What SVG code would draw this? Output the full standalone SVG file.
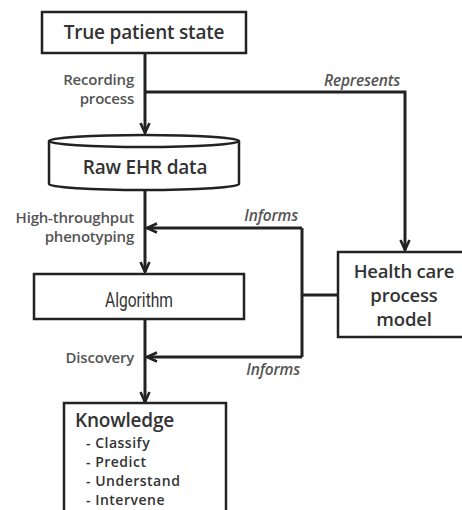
<svg xmlns="http://www.w3.org/2000/svg" width="462" height="510" viewBox="0 0 462 510">
  <style>
    .box { fill: #fff; stroke: #222; stroke-width: 2.5; }
    .wire { fill: none; stroke: #222; stroke-width: 3; }
    .title { font-family: "Open Sans", "Liberation Sans", sans-serif; font-weight: 600; fill: #333; }
    .item { font-family: "Open Sans", "Liberation Sans", sans-serif; font-weight: 600; fill: #333; font-size: 14px; letter-spacing: 0.5px; }
    .lbl { font-family: "Open Sans", "Liberation Sans", sans-serif; font-weight: 600; font-size: 15px; fill: #555; letter-spacing: -0.2px; }
    .ital { font-family: "Open Sans", "Liberation Sans", sans-serif; font-style: italic; font-weight: 600; font-size: 15.5px; fill: #555; letter-spacing: -0.2px; }
  </style>
  <defs>
    <marker id="arrow" viewBox="0 0 12 12" refX="11" refY="6" markerWidth="12" markerHeight="12" markerUnits="userSpaceOnUse" orient="auto">
      <path d="M1,1.5 L11,6 L1,10.5" fill="none" stroke="#222" stroke-width="2.6"/>
    </marker>
  </defs>
  <rect width="462" height="510" fill="#fff"/>

  <!-- connectors -->
  <g id="connectors">
    <line class="wire" x1="145" y1="53" x2="145" y2="133" marker-end="url(#arrow)"/>
    <polyline class="wire" points="145,92 405,92 405,250" marker-end="url(#arrow)"/>
    <line class="wire" x1="145" y1="190" x2="145" y2="272" marker-end="url(#arrow)"/>
    <line class="wire" x1="145" y1="319" x2="145" y2="402" marker-end="url(#arrow)"/>
    <polyline class="wire" points="338,295 302,295"/>
    <polyline class="wire" points="302,228 302,357"/>
    <line class="wire" x1="302" y1="228" x2="147" y2="228" marker-end="url(#arrow)"/>
    <line class="wire" x1="302" y1="357" x2="147" y2="357" marker-end="url(#arrow)"/>
    <text class="lbl" x="134" y="85" text-anchor="end">Recording</text>
    <text class="lbl" x="134" y="104" text-anchor="end">process</text>
    <text class="ital" x="400" y="86" text-anchor="end">Represents</text>
    <text class="lbl" x="134" y="223" text-anchor="end">High-throughput</text>
    <text class="lbl" x="134" y="242" text-anchor="end">phenotyping</text>
    <text class="ital" x="298" y="221" text-anchor="end">Informs</text>
    <text class="lbl" x="134" y="363" text-anchor="end">Discovery</text>
    <text class="ital" x="300" y="375" text-anchor="end">Informs</text>
  </g>

  <g id="true-patient-state">
    <rect class="box" x="42" y="12" width="204" height="41"/>
    <text class="title" x="144" y="39" font-size="19" text-anchor="middle" letter-spacing="-0.2">True patient state</text>
  </g>

  <g id="raw-ehr-data">
    <path class="box" d="M49,141 L49,184 A95,6 0 0 0 239,184 L239,141"/>
    <ellipse class="box" cx="144" cy="141" rx="95" ry="6"/>
    <text class="title" x="145" y="174" font-size="19" text-anchor="middle" letter-spacing="-0.2">Raw EHR data</text>
  </g>

  <g id="algorithm">
    <rect class="box" x="34" y="274" width="210" height="45"/>
    <text x="139" y="307" font-family="Roboto, 'Liberation Sans', sans-serif" font-size="20.5" fill="#333" text-anchor="middle" transform="translate(139 0) scale(0.76 1) translate(-139 0)">Algorithm</text>
  </g>

  <g id="health-care-model">
    <rect class="box" x="338" y="252" width="130" height="85"/>
    <text class="title" x="404" y="278" font-size="18.5" text-anchor="middle" letter-spacing="-0.2">Health care</text>
    <text class="title" x="404" y="302" font-size="18.5" text-anchor="middle" letter-spacing="-0.2">process</text>
    <text class="title" x="404" y="326" font-size="18.5" text-anchor="middle" letter-spacing="-0.2">model</text>
  </g>

  <g id="knowledge">
    <rect class="box" x="64" y="403" width="162" height="115"/>
    <text class="title" x="75" y="427" font-size="19" letter-spacing="-0.2">Knowledge</text>
    <text class="item" x="86" y="448">- Classify</text>
    <text class="item" x="86" y="467">- Predict</text>
    <text class="item" x="86" y="486">- Understand</text>
    <text class="item" x="86" y="505">- Intervene</text>
  </g>
</svg>
